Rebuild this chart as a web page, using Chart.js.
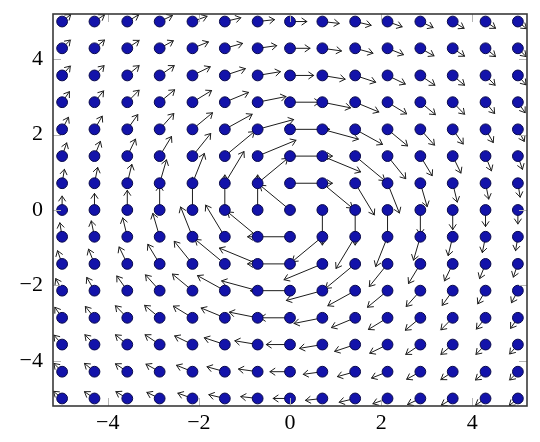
<!DOCTYPE html>
<html>
<head>
<meta charset="utf-8">
<script src="https://cdn.jsdelivr.net/npm/chart.js@4/dist/chart.umd.min.js"></script>
<style>html,body{margin:0;padding:0;background:#fff;}</style>
</head>
<body>
<div style="width:540px;height:442px"><canvas id="c" width="540" height="442"></canvas></div>
<script>
// grid of sample points
const gridX = [-5, -4.29, -3.57, -2.86, -2.14, -1.43, -0.71, 0, 0.71, 1.43, 2.14, 2.86, 3.57, 4.29, 5];
const rowsY = [5, 4.29, 3.57, 2.86, 2.14, 1.43, 0.71, 0, -0.71, -1.43, -2.14, -2.86, -3.57, -4.29, -5];
// arrow x-components, one row per rowsY entry, columns follow gridX
const arrowU = [
  [0.19,0.22,0.25,0.28,0.32,0.35,0.37,0.37,0.37,0.35,0.32,0.28,0.25,0.22,0.19],
  [0.18,0.22,0.26,0.30,0.35,0.39,0.42,0.44,0.42,0.39,0.35,0.30,0.26,0.22,0.18],
  [0.18,0.21,0.26,0.32,0.39,0.45,0.50,0.52,0.50,0.45,0.39,0.32,0.26,0.21,0.18],
  [0.16,0.20,0.26,0.33,0.42,0.52,0.62,0.65,0.62,0.52,0.42,0.33,0.26,0.20,0.16],
  [0.14,0.17,0.23,0.31,0.44,0.60,0.79,0.87,0.79,0.60,0.44,0.31,0.23,0.17,0.14],
  [0.10,0.13,0.18,0.26,0.40,0.65,0.84,0.93,0.84,0.65,0.40,0.26,0.18,0.13,0.10],
  [0.05,0.07,0.10,0.15,0.26,0.42,0.66,0.93,0.66,0.42,0.26,0.15,0.10,0.07,0.05],
  [0,0,0,0,0,0,0,-0.66,0,0,0,0,0,0,0],
  [-0.05,-0.07,-0.10,-0.15,-0.26,-0.42,-0.66,-0.93,-0.66,-0.42,-0.26,-0.15,-0.10,-0.07,-0.05],
  [-0.10,-0.13,-0.18,-0.26,-0.40,-0.65,-0.84,-0.93,-0.84,-0.65,-0.40,-0.26,-0.18,-0.13,-0.10],
  [-0.14,-0.17,-0.23,-0.31,-0.44,-0.60,-0.79,-0.87,-0.79,-0.60,-0.44,-0.31,-0.23,-0.17,-0.14],
  [-0.16,-0.20,-0.26,-0.33,-0.42,-0.52,-0.62,-0.65,-0.62,-0.52,-0.42,-0.33,-0.26,-0.20,-0.16],
  [-0.18,-0.21,-0.26,-0.32,-0.39,-0.45,-0.50,-0.52,-0.50,-0.45,-0.39,-0.32,-0.26,-0.21,-0.18],
  [-0.18,-0.22,-0.26,-0.30,-0.35,-0.39,-0.42,-0.44,-0.42,-0.39,-0.35,-0.30,-0.26,-0.22,-0.18],
  [-0.19,-0.22,-0.25,-0.28,-0.32,-0.35,-0.37,-0.37,-0.37,-0.35,-0.32,-0.28,-0.25,-0.22,-0.19]
];
// arrow y-components
const arrowV = [
  [0.19,0.18,0.18,0.16,0.14,0.10,0.05,0,-0.05,-0.10,-0.14,-0.16,-0.18,-0.18,-0.19],
  [0.22,0.22,0.21,0.20,0.17,0.13,0.07,0,-0.07,-0.13,-0.17,-0.20,-0.21,-0.22,-0.22],
  [0.25,0.26,0.26,0.26,0.23,0.18,0.10,0,-0.10,-0.18,-0.23,-0.26,-0.26,-0.26,-0.25],
  [0.28,0.30,0.32,0.33,0.31,0.26,0.15,0,-0.15,-0.26,-0.31,-0.33,-0.32,-0.30,-0.28],
  [0.32,0.35,0.39,0.42,0.44,0.40,0.26,0,-0.26,-0.40,-0.44,-0.42,-0.39,-0.35,-0.32],
  [0.35,0.39,0.45,0.52,0.60,0.65,0.42,0,-0.42,-0.65,-0.60,-0.52,-0.45,-0.39,-0.35],
  [0.37,0.42,0.50,0.62,0.79,0.84,0.66,0,-0.66,-0.84,-0.79,-0.62,-0.50,-0.42,-0.37],
  [0.37,0.44,0.52,0.65,0.87,0.93,0.93,0.66,-0.93,-0.93,-0.87,-0.65,-0.52,-0.44,-0.37],
  [0.37,0.42,0.50,0.62,0.79,0.84,0.66,0,-0.66,-0.84,-0.79,-0.62,-0.50,-0.42,-0.37],
  [0.35,0.39,0.45,0.52,0.60,0.65,0.42,0,-0.42,-0.65,-0.60,-0.52,-0.45,-0.39,-0.35],
  [0.32,0.35,0.39,0.42,0.44,0.40,0.26,0,-0.26,-0.40,-0.44,-0.42,-0.39,-0.35,-0.32],
  [0.28,0.30,0.32,0.33,0.31,0.26,0.15,0,-0.15,-0.26,-0.31,-0.33,-0.32,-0.30,-0.28],
  [0.25,0.26,0.26,0.26,0.23,0.18,0.10,0,-0.10,-0.18,-0.23,-0.26,-0.26,-0.26,-0.25],
  [0.22,0.22,0.21,0.20,0.17,0.13,0.07,0,-0.07,-0.13,-0.17,-0.20,-0.21,-0.22,-0.22],
  [0.19,0.18,0.18,0.16,0.14,0.10,0.05,0,-0.05,-0.10,-0.14,-0.16,-0.18,-0.18,-0.19]
];
const xTicks = [-4, -2, 0, 2, 4];
const yTicks = [-4, -2, 0, 2, 4];

const points = [];
rowsY.forEach(yv => gridX.forEach(xv => points.push({x: xv, y: yv})));

const fmt = v => (v < 0 ? '\u2212' + Math.abs(v) : String(v));

const quiver = {
  id: 'quiver',
  beforeDatasetsDraw(chart) {
    const {ctx, chartArea: a, scales: {x, y}} = chart;
    ctx.save();
    ctx.beginPath();
    ctx.rect(a.left, a.top, a.right - a.left, a.bottom - a.top);
    ctx.clip();
    ctx.strokeStyle = '#1c1c1c';
    ctx.lineWidth = 1;
    ctx.lineCap = 'round';
    ctx.lineJoin = 'round';
    rowsY.forEach((yv, r) => gridX.forEach((xv, c) => {
      const u = arrowU[r][c], v = arrowV[r][c];
      if (!u && !v) return;
      const x0 = x.getPixelForValue(xv), y0 = y.getPixelForValue(yv);
      const x1 = x.getPixelForValue(xv + u), y1 = y.getPixelForValue(yv + v);
      const ang = Math.atan2(y1 - y0, x1 - x0);
      const h = 6, sp = 0.6;
      ctx.beginPath();
      ctx.moveTo(x0, y0);
      ctx.lineTo(x1, y1);
      ctx.moveTo(x1 - h * Math.cos(ang - sp), y1 - h * Math.sin(ang - sp));
      ctx.lineTo(x1, y1);
      ctx.lineTo(x1 - h * Math.cos(ang + sp), y1 - h * Math.sin(ang + sp));
      ctx.stroke();
    }));
    ctx.restore();
  },
  afterDraw(chart) {
    const {ctx, chartArea: a, scales: {x, y}} = chart;
    ctx.save();
    ctx.strokeStyle = '#b4b4b4';
    ctx.lineWidth = 1;
    const L = 8;
    ctx.beginPath();
    xTicks.forEach(t => {
      const px = Math.round(x.getPixelForValue(t)) + 0.5;
      ctx.moveTo(px, a.bottom); ctx.lineTo(px, a.bottom - L);
      ctx.moveTo(px, a.top); ctx.lineTo(px, a.top + L);
    });
    yTicks.forEach(t => {
      const py = Math.round(y.getPixelForValue(t)) + 0.5;
      ctx.moveTo(a.left, py); ctx.lineTo(a.left + L, py);
      ctx.moveTo(a.right, py); ctx.lineTo(a.right - L, py);
    });
    ctx.stroke();
    ctx.strokeStyle = '#3a3a3a';
    ctx.lineWidth = 1.6;
    ctx.strokeRect(a.left, a.top, a.right - a.left, a.bottom - a.top);
    ctx.restore();
  }
};

new Chart(document.getElementById('c'), {
  type: 'scatter',
  data: {
    datasets: [{
      data: points,
      pointRadius: 5.4,
      pointHoverRadius: 5.4,
      pointBackgroundColor: '#1313aa',
      pointBorderColor: '#08084a',
      pointBorderWidth: 1
    }]
  },
  options: {
    responsive: false,
    animation: false,
    events: [],
    plugins: {legend: {display: false}, tooltip: {enabled: false}},
    layout: {padding: {top: 14, right: 13, left: 0, bottom: 0}},
    scales: {
      x: {
        type: 'linear', min: -5.2, max: 5.2,
        afterFit(s) { s.height = 36; s.paddingLeft = 0; s.paddingRight = 0; },
        afterBuildTicks(s) { s.ticks = xTicks.map(v => ({value: v})); },
        grid: {display: false, drawTicks: false},
        border: {display: false},
        ticks: {font: {family: 'Liberation Serif', size: 22}, color: '#000', padding: 4,
                maxRotation: 0, callback: v => fmt(v)}
      },
      y: {
        type: 'linear', min: -5.2, max: 5.2,
        afterFit(s) { s.width = 53; s.paddingTop = 0; s.paddingBottom = 0; },
        afterBuildTicks(s) { s.ticks = yTicks.map(v => ({value: v})); },
        grid: {display: false, drawTicks: false},
        border: {display: false},
        ticks: {font: {family: 'Liberation Serif', size: 22}, color: '#000', padding: 10,
                callback: v => fmt(v)}
      }
    }
  },
  plugins: [quiver]
});
</script>
</body>
</html>
